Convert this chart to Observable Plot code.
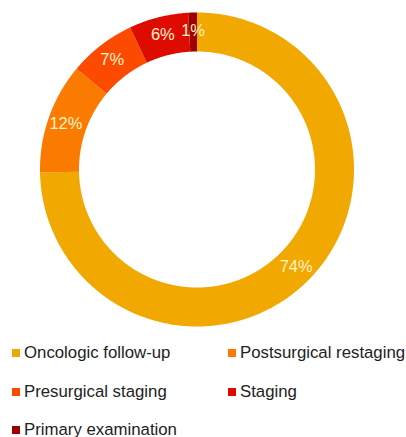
<!DOCTYPE html>
<html><head><meta charset="utf-8">
<script src="https://cdn.jsdelivr.net/npm/d3@7"></script>
<script src="https://cdn.jsdelivr.net/npm/@observablehq/plot@0.6"></script>
<style>
body{margin:0;background:#fff;font-family:"Liberation Sans",Arial,sans-serif;}
#legend{display:grid;grid-template-columns:216px 190px;row-gap:16.5px;margin-top:2px;padding-left:12px;}
.item{display:flex;align-items:center;font-size:16.8px;color:#222;white-space:nowrap;height:22px;}
.sw{width:8px;height:8px;margin-right:4px;flex:none;}
</style></head>
<body>
<div id="chart"></div>
<div id="legend"></div>
<script>
const categories = ["Oncologic follow-up","Postsurgical restaging","Presurgical staging","Staging","Primary examination"];
const values = [74.7, 11.4, 6.9, 6.1, 0.9];
const labels = ["74%","12%","7%","6%","1%"];
const colors = ["#F1A800","#FA7B00","#FC4A00","#DE0C00","#9E0000"];

const outerR = 157, innerR = 118, labelR = 139;
const pie = d3.pie().sort(null).value(d => d.value)(categories.map((c,i)=>({cat:c,value:values[i],label:labels[i]})));
const pts = [];
const labs = [];
for (const p of pie) {
  const n = Math.max(4, Math.ceil((p.endAngle - p.startAngle) / 0.01));
  for (let k = 0; k <= n; k++) { const a = p.startAngle + (p.endAngle - p.startAngle) * k / n; pts.push({cat:p.data.cat, x: outerR*Math.sin(a), y: outerR*Math.cos(a)}); }
  for (let k = n; k >= 0; k--) { const a = p.startAngle + (p.endAngle - p.startAngle) * k / n; pts.push({cat:p.data.cat, x: innerR*Math.sin(a), y: innerR*Math.cos(a)}); }
  const m = (p.startAngle + p.endAngle) / 2;
  labs.push({label:p.data.label, x: labelR*Math.sin(m), y: labelR*Math.cos(m)});
}
const plot = Plot.plot({
  width: 406, height: 340,
  margin: 0,
  x: {domain: [-196.5, 209.5], axis: null},
  y: {domain: [-171, 169], axis: null},
  color: {type: "ordinal", domain: categories, range: colors},
  marks: [
    Plot.line(pts, {x:"x", y:"y", z:"cat", fill:"cat", stroke:"none"}),
    Plot.text(labs, {x:"x", y:"y", text:"label", fill:"#FFF3C8", fontSize:16.5, fontFamily:"Liberation Sans, Arial, sans-serif"})
  ]
});
document.getElementById("chart").appendChild(plot);
const color = plot.scale("color");
const leg = document.getElementById("legend");
categories.forEach((c,i) => {
  const it = document.createElement("div"); it.className = "item";
  const sw = document.createElement("span"); sw.className = "sw"; sw.style.background = color.apply(c);
  it.appendChild(sw); it.appendChild(document.createTextNode(c));
  leg.appendChild(it);
});
</script>
</body></html>
